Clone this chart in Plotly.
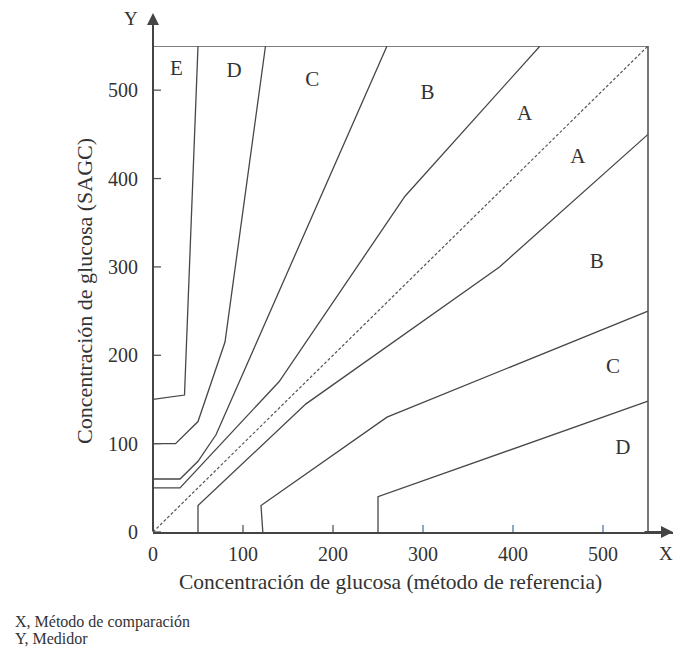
import plotly.graph_objects as go

# ---- data (Parkes consensus error grid, type 1) ----
a_upper_x = [0, 30, 140, 280, 430]
a_upper_y = [50, 50, 170, 380, 550]
a_lower_x = [50, 50, 170, 385, 550]
a_lower_y = [0, 30, 145, 300, 450]
b_upper_x = [0, 30, 50, 70, 260]
b_upper_y = [60, 60, 80, 110, 550]
b_lower_x = [122, 120, 260, 550]
b_lower_y = [0, 30, 130, 250]
c_upper_x = [0, 25, 50, 80, 125]
c_upper_y = [100, 100, 125, 215, 550]
c_lower_x = [250, 250, 550]
c_lower_y = [0, 40, 148]
d_upper_x = [0, 35, 50]
d_upper_y = [150, 155, 550]
identity_x = [0, 550]
identity_y = [0, 550]

zone_labels = ["E", "D", "C", "B", "A", "A", "B", "C", "D"]
zone_label_x = [26, 90, 177, 305, 413, 472, 493, 511, 522]
zone_label_y = [523, 521, 511, 496, 472, 423, 305, 186, 94]

x_ticks = [0, 100, 200, 300, 400, 500]
y_ticks = [0, 100, 200, 300, 400, 500]
x_tick_marks = [100, 200, 300, 400, 500]
x_tick_colors = ["#555555", "#555555", "#5577a0", "#5577a0", "#5577a0"]
grid_max = 550

x_title = "Concentración de glucosa (método de referencia)"
y_title = "Concentración de glucosa (SAGC)"
note_lines = ["X, Método de comparación", "Y, Medidor"]

FONT = "Liberation Serif"
LINE = "#474747"
TXT = "#333333"
AXC = "#444444"

# plot area: the x axis extends past the grid frame up to the arrow tip
PLOT_L = 153.3
PLOT_B = 531.7
PLOT_W, PLOT_H = 520, 486
GRID_W = 495
x_range_max = grid_max * PLOT_W / GRID_W


def px(xp):
    return (xp - PLOT_L) / PLOT_W


def py(yp):
    return (PLOT_B - yp) / PLOT_H


fig = go.Figure()
for xs, ys in [(a_upper_x, a_upper_y), (a_lower_x, a_lower_y),
               (b_upper_x, b_upper_y), (b_lower_x, b_lower_y),
               (c_upper_x, c_upper_y), (c_lower_x, c_lower_y),
               (d_upper_x, d_upper_y)]:
    fig.add_trace(go.Scatter(x=xs, y=ys, mode="lines",
                             line=dict(color=LINE, width=1.3),
                             hoverinfo="skip", showlegend=False, cliponaxis=False))
fig.add_trace(go.Scatter(x=identity_x, y=identity_y, mode="lines",
                         line=dict(color="#555555", width=1.2, dash="3px,2px"),
                         hoverinfo="skip", showlegend=False))

fig.add_trace(go.Scatter(x=zone_label_x, y=zone_label_y, mode="text",
                         text=zone_labels,
                         textfont=dict(family=FONT, size=21, color=TXT),
                         hoverinfo="skip", showlegend=False))

shapes = []
# top and right frame of the grid
shapes.append(dict(type="line", xref="x", yref="y", x0=0, x1=grid_max, y0=grid_max, y1=grid_max,
                   line=dict(color="#555555", width=1.6)))
shapes.append(dict(type="line", xref="x", yref="y", x0=grid_max, x1=grid_max, y0=0, y1=grid_max,
                   line=dict(color="#555555", width=1.6)))
# crossing ticks on y axis
for v in y_ticks:
    shapes.append(dict(type="line", xref="x", yref="y", xsizemode="pixel", xanchor=0,
                       x0=-11, x1=8, y0=v, y1=v, line=dict(color="#555555", width=1.3)))
# crossing ticks on x axis
for v, c in zip(x_tick_marks, x_tick_colors):
    shapes.append(dict(type="line", xref="x", yref="y", ysizemode="pixel", yanchor=0,
                       y0=-7, y1=7, x0=v, x1=v, line=dict(color=c, width=1.3)))

annotations = []
# vertical axis arrow (also draws the y axis line)
annotations.append(dict(x=0, y=py(12.7), xref="paper", yref="paper", text="",
                        showarrow=True, ax=0, ay=520, arrowhead=2, arrowsize=1.2,
                        arrowwidth=2, arrowcolor=AXC))
# arrowhead at the end of the x axis line
annotations.append(dict(x=1.0, y=0, xref="paper", yref="paper", text="",
                        showarrow=True, ax=-30, ay=0, arrowhead=2, arrowsize=1.2,
                        arrowwidth=2, arrowcolor=AXC))


def lab(x, y, text, size, angle=0, xa="center"):
    return dict(x=x, y=y, xref="paper", yref="paper", text=text, showarrow=False,
                xanchor=xa, yanchor="middle", textangle=angle,
                font=dict(family=FONT, size=size, color=TXT))


annotations.append(lab(px(131), py(18), "Y", 19))
annotations.append(lab(px(666), py(553), "X", 19))
annotations.append(lab(px(391), py(582), x_title, 21.5))
annotations.append(lab(px(85), py(291), y_title, 22, angle=-90))
for line_text, yp in zip(note_lines, [622, 638]):
    annotations.append(lab(px(13), py(yp), line_text, 16, xa="left"))

fig.update_layout(
    width=666, height=640,
    margin=dict(l=145, r=1, t=38, b=116),
    plot_bgcolor="white", paper_bgcolor="white",
    shapes=shapes, annotations=annotations,
    xaxis=dict(range=[0, x_range_max], tickvals=x_ticks, ticktext=[str(v) for v in x_ticks],
               ticks="outside", ticklen=3, tickcolor="rgba(0,0,0,0)",
               showgrid=False, zeroline=False, showline=True,
               linecolor=AXC, linewidth=2,
               tickfont=dict(family=FONT, size=20, color=TXT)),
    yaxis=dict(range=[0, grid_max], tickvals=y_ticks, ticktext=[str(v) for v in y_ticks],
               ticks="outside", ticklen=10, tickcolor="rgba(0,0,0,0)",
               showgrid=False, zeroline=False, showline=False,
               tickfont=dict(family=FONT, size=20, color=TXT)),
)

fig.write_html("out.html")
